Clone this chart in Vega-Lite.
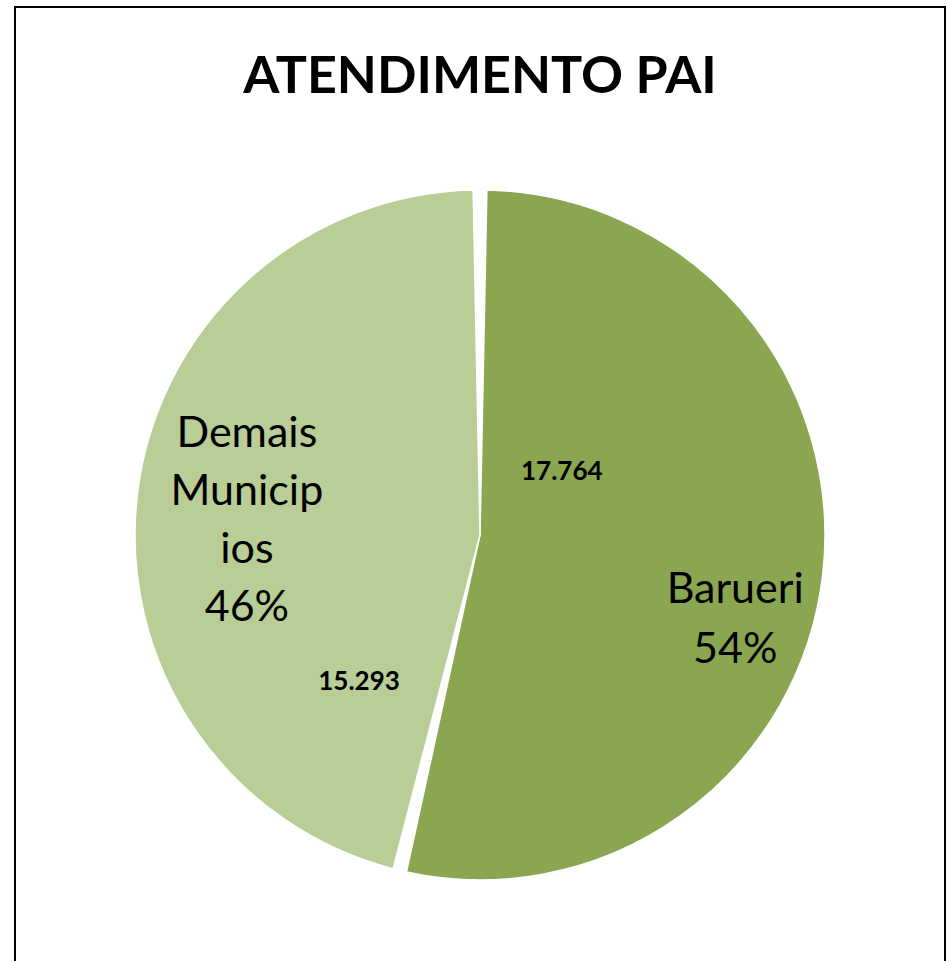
{
  "$schema": "https://vega.github.io/schema/vega-lite/v6.json",
  "autosize": {"type": "none"},
  "padding": {"left": 15, "top": 7, "right": 2, "bottom": 0},
  "width": 930,
  "height": 1056,
  "background": "white",
  "view": {"stroke": "black", "strokeWidth": 2},
  "config": {
    "locale": {"number": {"decimal": ",", "thousands": ".", "grouping": [3], "currency": ["R$", ""]}}
  },
  "title": {
    "text": "ATENDIMENTO PAI",
    "orient": "top",
    "anchor": "middle",
    "frame": "group",
    "baseline": "alphabetic",
    "offset": -83,
    "dy": 55,
    "font": "Lato",
    "fontSize": 52,
    "fontWeight": "bold",
    "color": "black"
  },
  "data": {
    "values": [
      {"cat": "Barueri", "value": 17764, "name": "Barueri\n54%"},
      {"cat": "Demais Municipios", "value": 15293, "name": "Demais\nMunicip\nios\n46%"}
    ]
  },
  "encoding": {
    "theta": {"field": "value", "type": "quantitative", "stack": true},
    "order": {"field": "cat", "type": "ordinal", "sort": "ascending"}
  },
  "layer": [
    {
      "mark": {"type": "arc", "radius": 345, "padAngle": 0.04, "stroke": "white", "strokeWidth": 1.5},
      "encoding": {
        "color": {
          "field": "cat",
          "type": "nominal",
          "scale": {"domain": ["Barueri", "Demais Municipios"], "range": ["#8BA650", "#B9CE97"]},
          "legend": null
        }
      }
    },
    {
      "mark": {"type": "text", "radius": 261, "thetaOffset": 0.094, "font": "Lato", "fontSize": 43, "lineHeight": 60, "lineBreak": "\n", "color": "black", "align": "center", "baseline": "middle"},
      "encoding": {
        "detail": {"field": "cat"},
        "text": {"condition": {"test": "datum.cat === 'Barueri'", "field": "name"}, "value": ""}
      }
    },
    {
      "mark": {"type": "text", "radius": 254, "thetaOffset": 0.291, "font": "Lato", "fontSize": 43, "lineHeight": 58, "lineBreak": "\n", "color": "black", "align": "center", "baseline": "middle"},
      "encoding": {
        "detail": {"field": "cat"},
        "text": {"condition": {"test": "datum.cat === 'Demais Municipios'", "field": "name"}, "value": ""}
      }
    },
    {
      "mark": {"type": "text", "radius": 103, "thetaOffset": -0.771, "font": "Lato", "fontSize": 26, "fontWeight": "bold", "color": "black", "align": "center", "baseline": "middle"},
      "encoding": {
        "detail": {"field": "cat"},
        "text": {"condition": {"test": "datum.cat === 'Barueri'", "field": "value", "format": ",d"}, "value": ""}
      }
    },
    {
      "mark": {"type": "text", "radius": 190, "thetaOffset": -0.998, "font": "Lato", "fontSize": 26, "fontWeight": "bold", "color": "black", "align": "center", "baseline": "middle"},
      "encoding": {
        "detail": {"field": "cat"},
        "text": {"condition": {"test": "datum.cat === 'Demais Municipios'", "field": "value", "format": ",d"}, "value": ""}
      }
    }
  ]
}
